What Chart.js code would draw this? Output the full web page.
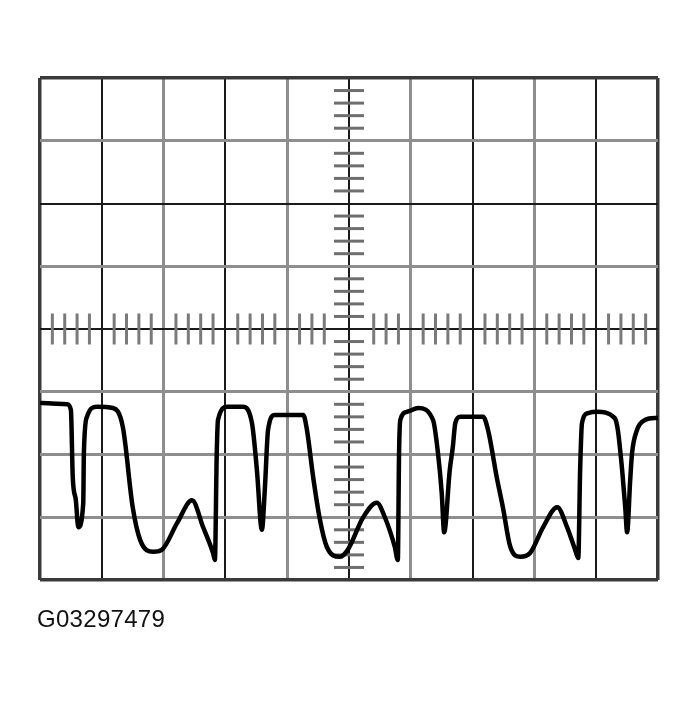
<!DOCTYPE html>
<html>
<head>
<meta charset="utf-8">
<script src="https://cdn.jsdelivr.net/npm/chart.js@4/dist/chart.umd.min.js"></script>
<style>
  body { margin: 0; background: #fff; }
  #wrap { position: relative; width: 699px; height: 704px; }
  #label { position: absolute; left: 37px; top: 605px; font: 24px "Liberation Sans", Arial, sans-serif; letter-spacing: 0.3px; color: #111; }
</style>
</head>
<body>
<div id="wrap">
  <canvas id="scope" width="699" height="704"></canvas>
  <div id="label">G03297479</div>
</div>
<script>
// screen in divisions: 10 across, 8 up (centre = 0)
const xDivs = 10;
const yDivs = 4;
const minorPerDiv = 5;
const darkRows = [2, 0]; // horizontal lines drawn black, the others grey

// trace (x in divisions, y in divisions from centre)
const traceX = [0.03, 0.44, 0.50, 0.53, 0.58, 0.62, 0.70, 0.71, 0.76, 0.92, 1.18, 1.34, 1.50, 1.62, 1.83, 1.97, 2.22, 2.46, 2.64, 2.80, 2.83, 2.86, 2.88, 3.03, 3.28, 3.43, 3.51, 3.59, 3.64, 3.69, 3.80, 4.26, 4.32, 4.42, 4.53, 4.64, 4.85, 4.98, 5.23, 5.45, 5.58, 5.74, 5.79, 5.81, 5.83, 5.94, 6.12, 6.36, 6.44, 6.50, 6.54, 6.63, 6.68, 6.72, 6.80, 7.17, 7.25, 7.39, 7.49, 7.61, 7.77, 7.93, 8.14, 8.37, 8.53, 8.66, 8.71, 8.74, 8.77, 8.87, 9.01, 9.30, 9.35, 9.42, 9.47, 9.50, 9.55, 9.58, 9.66, 9.79, 9.95, 10.0];
const traceY = [-1.18, -1.20, -1.29, -2.36, -2.73, -3.16, -2.77, -1.98, -1.40, -1.24, -1.26, -1.56, -2.84, -3.36, -3.55, -3.52, -3.09, -2.73, -3.16, -3.57, -3.68, -1.98, -1.45, -1.24, -1.24, -1.50, -2.25, -3.20, -2.52, -1.61, -1.37, -1.37, -1.61, -2.36, -3.04, -3.47, -3.63, -3.52, -3.00, -2.77, -3.00, -3.47, -3.68, -1.98, -1.45, -1.32, -1.26, -1.45, -1.98, -2.61, -3.24, -2.25, -1.88, -1.50, -1.40, -1.40, -1.61, -2.36, -2.84, -3.47, -3.63, -3.57, -3.16, -2.84, -3.16, -3.52, -3.65, -2.25, -1.50, -1.34, -1.32, -1.42, -1.61, -2.25, -2.84, -3.24, -2.41, -1.98, -1.61, -1.45, -1.42, -1.42];

const trace = traceX.map((x, i) => ({ x: x, y: traceY[i] }));

// graticule minor ticks on the centre lines
const xMinor = [];
for (let k = 1; k < xDivs * minorPerDiv; k++) {
  if (k % minorPerDiv === 0) continue;
  if (Math.abs(k - xDivs * minorPerDiv / 2) === 1) continue; // hidden by the vertical scale
  xMinor.push({ x: k / minorPerDiv, y: 0 });
}
const yMinor = [];
for (let k = -yDivs * minorPerDiv + 1; k < yDivs * minorPerDiv; k++) {
  if (k % minorPerDiv === 0) continue;
  yMinor.push({ x: xDivs / 2, y: k / minorPerDiv });
}

const dark = '#1a1a1a';
const grey = '#8e8e8e';
const edge = '#3a3a3a';

const ctx = document.getElementById('scope').getContext('2d');
new Chart(ctx, {
  type: 'scatter',
  data: {
    datasets: [
      {
        data: xMinor,
        pointStyle: 'line',
        rotation: 90,
        pointRadius: 15.5,
        borderColor: '#7a7a7a',
        borderWidth: 3,
        order: 3
      },
      {
        data: yMinor,
        pointStyle: 'line',
        pointRadius: 15,
        borderColor: '#6e6e6e',
        borderWidth: 3,
        order: 2
      },
      {
        data: trace,
        showLine: true,
        borderColor: '#000',
        borderWidth: 4.5,
        pointRadius: 0,
        cubicInterpolationMode: 'monotone',
        borderJoinStyle: 'round',
        borderCapStyle: 'round',
        order: 1
      }
    ]
  },
  options: {
    responsive: false,
    animation: false,
    devicePixelRatio: 1,
    layout: { padding: { left: 40, right: 41, top: 78, bottom: 124 } },
    plugins: { legend: { display: false }, tooltip: { enabled: false } },
    scales: {
      x: {
        type: 'linear',
        min: 0,
        max: xDivs,
        ticks: { display: false, stepSize: 1 },
        border: { display: false },
        grid: {
          drawTicks: false,
          color: c => {
            const v = c.tick.value;
            if (v === 0 || v === xDivs) return edge;
            return v % 2 === 1 ? dark : grey;
          },
          lineWidth: c => {
            const v = c.tick.value;
            if (v === 0 || v === xDivs) return 3.5;
            return v % 2 === 1 ? 2 : 3;
          }
        }
      },
      y: {
        type: 'linear',
        min: -yDivs,
        max: yDivs,
        ticks: { display: false, stepSize: 1 },
        border: { display: false },
        grid: {
          drawTicks: false,
          color: c => {
            const v = c.tick.value;
            if (Math.abs(v) === yDivs) return edge;
            return darkRows.includes(v) ? dark : grey;
          },
          lineWidth: c => {
            const v = c.tick.value;
            if (Math.abs(v) === yDivs) return 3.5;
            return darkRows.includes(v) ? 2 : 3;
          }
        }
      }
    }
  }
});
</script>
</body>
</html>
